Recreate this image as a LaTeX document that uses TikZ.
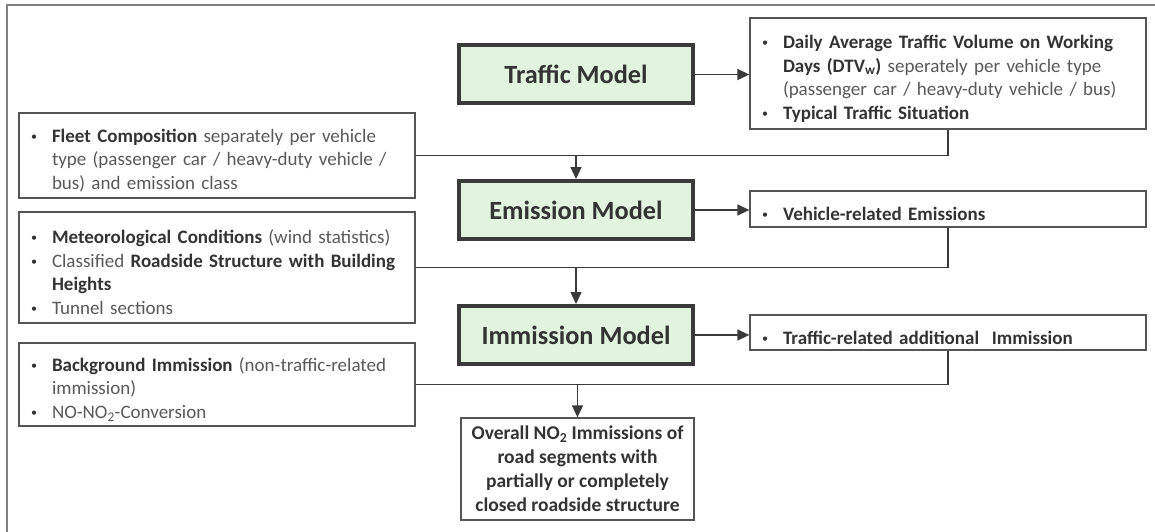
\documentclass[tikz,border=0pt]{standalone}
\usepackage{fontspec}
\setmainfont{Carlito}
\usetikzlibrary{arrows.meta,calc}

\definecolor{boldtxt}{HTML}{333333}
\definecolor{plaintxt}{HTML}{595959}
\definecolor{modelfill}{HTML}{E2F4E0}
\definecolor{edgec}{HTML}{3A3A3A}
\definecolor{boxc}{HTML}{555555}
\definecolor{framec}{HTML}{808080}

% bold, darker phrase inside the grey body text
\newcommand{\hb}[1]{{\bfseries\color{boldtxt}#1}}
% small list bullet
\newcommand{\smallbullet}{\raisebox{2pt}{\fontsize{12}{12}\selectfont\color{boldtxt}\textbullet}}

% compact bullet list used in the input/output boxes
\newenvironment{bulletlist}{%
  \begin{list}{\smallbullet}{%
    \setlength{\leftmargin}{25pt}\setlength{\labelwidth}{6pt}%
    \setlength{\labelsep}{15pt}\setlength{\itemsep}{0pt}%
    \setlength{\parsep}{0pt}\setlength{\topsep}{0pt}%
    \setlength{\partopsep}{0pt}\setlength{\itemindent}{0pt}}\raggedright}%
  {\end{list}}

\tikzset{
  model/.style={draw=edgec, line width=4pt, fill=modelfill, text=boldtxt,
    minimum width=234pt, minimum height=58pt,
    font=\fontsize{26.3}{30}\selectfont\bfseries},
  infobox/.style={draw=boxc, line width=1.3pt, fill=white, text=plaintxt,
    minimum width=396pt, inner xsep=8pt, inner ysep=2pt, text width=380pt,
    font=\fontsize{19}{23.5}\selectfont},
  resultbox/.style={draw=boxc, line width=1.3pt, fill=white, text=boldtxt,
    minimum width=233pt, minimum height=102pt, align=center,
    font=\fontsize{19.5}{24}\selectfont\bfseries},
  conn/.style={draw=edgec, line width=1.4pt},
  arr/.style={conn, -{Triangle[length=12pt,width=11pt]}},
}

\begin{document}
\begin{tikzpicture}[x=1pt, y=-1pt]
\useasboundingbox (0,0) rectangle (1155,532);

% partial outer frame
\draw[framec, line width=1.5pt] (1155,5) -- (7,5) -- (7,532);

% model chain
\node[model] (tm) at (576,74.5) {Traffic Model};
\node[model] (em) at (576,210) {Emission Model};
\node[model] (im) at (576,335) {Immission Model};

% outputs of each model
\node[infobox, minimum height=111pt] (r1) at (948,73.5) {%
  \begin{bulletlist}
  \item \hb{Daily Average Traffic Volume on Working}\newline
        \hb{Days (DTV\textsubscript{w})} seperately per vehicle type\newline
        (passenger car / heavy-duty vehicle / bus)
  \item \hb{Typical Traffic Situation}
  \end{bulletlist}};
\node[infobox, minimum height=36pt] (r2) at (948,209) {%
  \begin{bulletlist}
  \item \hb{Vehicle-related Emissions}
  \end{bulletlist}};
\node[infobox, minimum height=35pt] (r3) at (948,332.5) {%
  \begin{bulletlist}
  \item \hb{Traffic-related additional\ \ Immission}
  \end{bulletlist}};

% additional inputs
\node[infobox, minimum height=85pt] (fleet) at (217,155.5) {%
  \begin{bulletlist}
  \item \hb{Fleet Composition} separately per vehicle\newline
        type (passenger car / heavy-duty vehicle /\newline
        bus) and emission class
  \end{bulletlist}};
\node[infobox, minimum height=111pt] (met) at (217,267.5) {%
  \begin{bulletlist}
  \item \hb{Meteorological Conditions} (wind statistics)
  \item Classified \hb{Roadside Structure with Building}\newline
        \hb{Heights}
  \item Tunnel sections
  \end{bulletlist}};
\node[infobox, minimum height=83pt] (bg) at (217,384.5) {%
  \begin{bulletlist}
  \item \hb{Background Immission} (non-traffic-related\newline
        immission)
  \item NO-NO\textsubscript{2}-Conversion
  \end{bulletlist}};

% final result
\node[resultbox] (res) at (577.5,469) {Overall NO\textsubscript{2} Immissions of\\
  road segments with\\ partially or completely\\ closed roadside structure};

% model -> output arrows
\draw[arr] (tm.east) -- (tm.east -| r1.west);
\draw[arr] (em.east) -- (em.east -| r2.west);
\draw[arr] (im.east) -- (im.east -| r3.west);

% outputs merged with inputs, feeding the next stage
\draw[conn] (r1.south) |- (fleet.east);
\draw[arr] (em.north |- fleet.east) -- (em.north);
\draw[conn] (r2.south) |- (met.east);
\draw[arr] (im.north |- met.east) -- (im.north);
\draw[conn] (r3.south) |- (bg.east);
\draw[arr] (res.north |- bg.east) -- (res.north);
\end{tikzpicture}
\end{document}
